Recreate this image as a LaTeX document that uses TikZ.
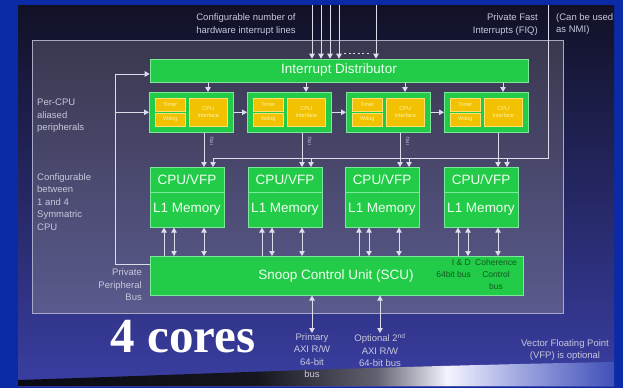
\documentclass[tikz,border=0pt]{standalone}
\usepackage{fontspec}
\setmainfont{Liberation Sans}
\newfontfamily\bigserif{Liberation Serif}
\usetikzlibrary{arrows.meta}
\definecolor{bordblue}{HTML}{0B2AA6}
\definecolor{bgtop}{HTML}{111126}
\definecolor{bgmid}{HTML}{1F2468}
\definecolor{bgbot}{HTML}{3A3EA2}
\definecolor{paneltop}{HTML}{3A384F}
\definecolor{panelbot}{HTML}{5A5A8E}
\definecolor{panelline}{HTML}{A8A8C8}
\definecolor{grn}{HTML}{22CC48}
\definecolor{grnline}{HTML}{7EE89A}
\definecolor{yel}{HTML}{F2C200}
\definecolor{yelline}{HTML}{FFE070}
\definecolor{yeltext}{HTML}{FFF2B0}
\definecolor{wirec}{HTML}{DCDCEA}
\definecolor{lblc}{HTML}{C8C8DC}
\definecolor{boxtext}{HTML}{F0FFF0}
\definecolor{scutext}{HTML}{10581E}
\definecolor{swA}{HTML}{0A0A14}
\definecolor{swB}{HTML}{16161F}
\definecolor{swC}{HTML}{606070}
\definecolor{swD}{HTML}{F4F4FF}
\definecolor{swE}{HTML}{A0A8E0}
\definecolor{swF}{HTML}{4050B8}
\pgfdeclarehorizontalshading{swoosh}{100bp}{color(0bp)=(swA); color(25bp)=(swA); color(45bp)=(swB); color(55bp)=(swC); color(61bp)=(swD); color(67bp)=(swE); color(75bp)=(swF); color(100bp)=(swF)}
\tikzset{
  gbox/.style={draw=grnline, fill=grn, line width=0.6pt, inner sep=0pt, text=boxtext,
    font=\fontsize{13.5}{15}\selectfont},
  ybox/.style={draw=yelline, fill=yel, line width=0.5pt, inner sep=0pt, text=yeltext,
    font=\fontsize{5.5}{6.5}\selectfont, anchor=north west, align=center},
  wire/.style={draw=wirec, line width=0.9pt},
  arr/.style={wire, -{Triangle[width=5.5pt,length=5pt]}},
  darr/.style={wire, {Triangle[width=5.5pt,length=5pt]}-{Triangle[width=5.5pt,length=5pt]}},
  lbl/.style={text=lblc, inner sep=0pt, font=\fontsize{9.5}{12.5}\selectfont},
  scul/.style={text=scutext, inner sep=0pt, font=\fontsize{8.5}{12}\selectfont},
  irq/.style={text=lblc, inner sep=0pt, font=\fontsize{4.5}{5}\selectfont, rotate=90},
  boxtxt/.style={text=boxtext, inner sep=0pt, font=\fontsize{13.5}{15}\selectfont}
}
\begin{document}
\begin{tikzpicture}[x=1pt,y=-1pt]
\useasboundingbox (0,0) rectangle (623,388);
% background
\fill[bordblue] (0,0) rectangle (623,388);
\shade[top color=bgtop, middle color=bgmid, bottom color=bgbot] (18,5) rectangle (614,386);
\shade[shading=swoosh] (18,386) -- (18,380) .. controls (150,376) and (350,367) .. (614,362) -- (614,386) -- cycle;
% panel
\shade[top color=paneltop, bottom color=panelbot] (32,40) rectangle (563,313);
\draw[panelline, line width=0.8pt] (32,40) rectangle (563,313);

% interrupt distributor
\node[gbox, minimum width=378, minimum height=23] (dist) at (339,70.5) {Interrupt Distributor};

% per-CPU blocks
\foreach \i/\L/\Ts/\Ci/\Dx in {1/149/155/189/208,2/247/253/287/306,3/346/352/386/405,4/444/450/484/503} {
  \node[gbox, minimum width=84, minimum height=40, anchor=north west] (b\i) at (\L,92) {};
  \node[ybox, minimum width=30, minimum height=13] (t\i) at (\Ts,98) {Timer};
  \node[ybox, minimum width=30, minimum height=12.5] (w\i) at (\Ts,113) {Wdog};
  \node[ybox, minimum width=38, minimum height=27.5] (ci\i) at (\Ci,98) {CPU\\Interface};
  \draw[arr] (dist.south -| \Dx,0) -- (b\i.north -| \Dx,0);
}
\foreach \a/\b in {1/2,2/3,3/4} { \draw[arr] (b\a.east) -- (b\b.west); }

% CPU/VFP boxes
\foreach \i/\C/\M in {1/150/187,2/248/285,3/345/382,4/444/481} {
  \node[gbox, minimum width=74, minimum height=60, anchor=north west] (c\i) at (\C,167) {};
  \draw[grnline, line width=0.6pt] (c\i.west |- 0,192) -- (c\i.east |- 0,192);
  \node[boxtxt] (cv\i) at (\M,180) {CPU/VFP};
  \node[boxtxt] (cm\i) at (\M,209.5) {L1 Memory};
}

% SCU
\node[gbox, minimum width=373, minimum height=39, anchor=north west] (scu) at (150,256) {};
\node[boxtxt] (scut) at (336,276) {Snoop Control Unit (SCU)};
\node[scul, align=right, anchor=north east] (idb) at (471,259) {I \& D\\64bit bus};
\node[scul, align=center, anchor=north] (ccb) at (496,259) {Coherence\\Control\\bus};

% IRQ lines from CPU interfaces to CPU boxes
\foreach \i/\X in {1/204,2/302,3/400,4/498} {
  \draw[arr] (b\i.south -| \X,0) -- (c\i.north -| \X,0);
}
\node[irq] (irq1) at (212,141) {IRQ};
\node[irq] (irq2) at (310,141) {IRQ};
\node[irq] (irq3) at (408,141) {IRQ};

% FIQ lines
\coordinate (fiqtop) at (548,5);
\coordinate (fiqend) at (213,158);
\draw[wire] (fiqtop) |- (fiqend);
\foreach \i/\F in {1/213,2/311,3/409,4/507} {
  \coordinate (fq\i) at (\F,158);
  \draw[arr] (fq\i) -- (c\i.north -| fq\i);
}

% CPU <-> SCU
\foreach \i/\A/\B/\D in {1/164/174/204,2/262/272/302,3/359/369/399,4/458/468/498} {
  \draw[arr] (scu.north -| \A,0) -- (c\i.south -| \A,0);
  \draw[darr] (scu.north -| \B,0) -- (c\i.south -| \B,0);
  \draw[darr] (scu.north -| \D,0) -- (c\i.south -| \D,0);
}

% private peripheral bus
\coordinate (bustop) at (115,74);
\draw[wire] (scu.west |- 0,264) -| (bustop);
\draw[arr] (bustop) -- (dist.west |- bustop);
\draw[arr] (b1.west -| bustop) -- (b1.west);

% hardware interrupt lines
\foreach \k/\x in {1/312,2/321,3/330,4/339,5/376} {
  \coordinate (il\k) at (\x,5);
  \draw[arr] (il\k) -- (dist.north -| il\k);
}
\coordinate (dotA) at (344,53);
\coordinate (dotB) at (371,53);
\draw[wire, dash pattern=on 2pt off 2.5pt] (dotA) -- (dotB);

% labels
\node[lbl, align=center] (hwl) at (246,24.5) {Configurable number of\\hardware interrupt lines};
\node[lbl, align=right, anchor=east] (pfi) at (538,24.5) {Private Fast\\Interrupts (FIQ)};
\node[lbl, align=left, anchor=west] (nmi) at (556,24) {(Can be used\\as NMI)};
\node[lbl, align=left, anchor=west] (pcp) at (37,116) {Per-CPU\\aliased\\peripherals};
\node[lbl, align=left, anchor=west] (cfg) at (37,202) {Configurable\\between\\1 and 4\\Symmatric\\CPU};
\node[lbl, align=right, anchor=east] (ppb) at (142,285) {Private\\Peripheral\\Bus};
\node[lbl, align=center, anchor=north] (prim) at (312,333) {Primary\\AXI R/W\\64-bit\\bus};
\node[lbl, align=center, anchor=north] (opt) at (380,333) {Optional 2\textsuperscript{nd}\\AXI R/W\\64-bit bus};
\node[lbl, align=center] (vfp) at (565,350) {Vector Floating Point\\(VFP) is optional};
\draw[darr] (scu.south -| prim.north) -- (prim.north);
\draw[darr] (scu.south -| opt.north) -- (opt.north);

\node[text=white, inner sep=0pt, font=\bigserif\bfseries\fontsize{49}{49}\selectfont] (cores) at (183,337) {4 cores};
\end{tikzpicture}
\end{document}
